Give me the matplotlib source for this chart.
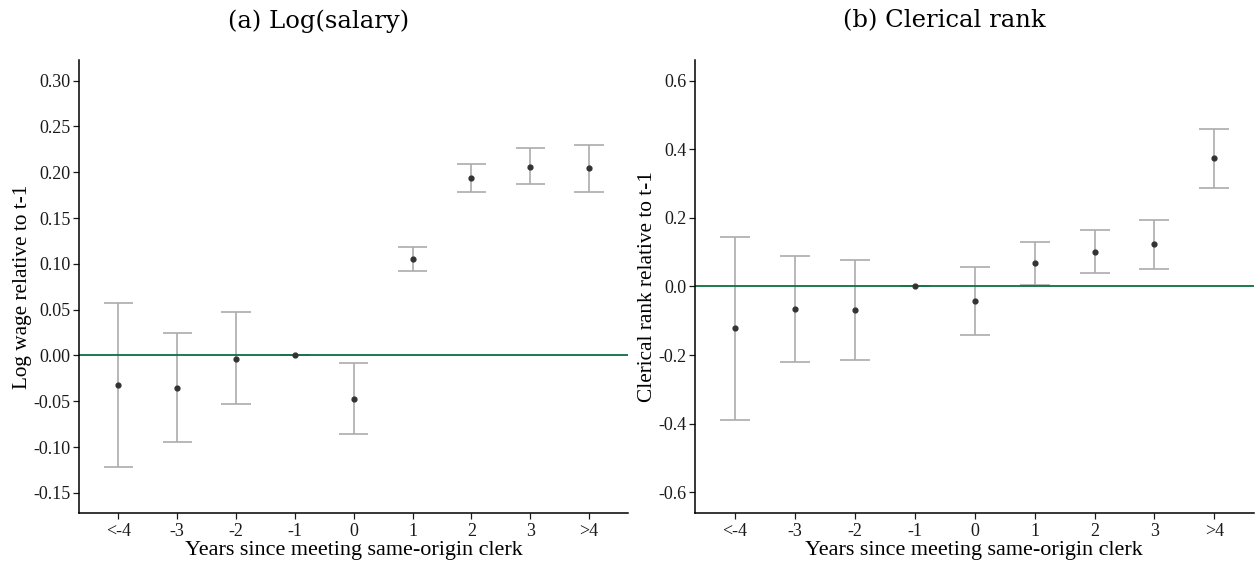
import numpy as np
import matplotlib
matplotlib.use("Agg")
import matplotlib.pyplot as plt
from matplotlib.ticker import FormatStrFormatter

plt.rcParams['font.family'] = ['Liberation Serif', 'DejaVu Serif']
plt.rcParams['axes.unicode_minus'] = False

# event-time categories
periods = ["<-4", "-3", "-2", "-1", "0", "1", "2", "3", ">4"]

# (a) log salary: estimate, lower CI, upper CI
wage_est = [-0.032, -0.035, -0.0035, 0.0, -0.048, 0.105, 0.194, 0.206, 0.205]
wage_lo = [-0.122, -0.095, -0.0535, 0.0, -0.086, 0.092, 0.178, 0.187, 0.179]
wage_hi = [0.0575, 0.025, 0.047, 0.0, -0.008, 0.118, 0.209, 0.226, 0.230]

# (b) clerical rank
rank_est = [-0.122, -0.066, -0.068, 0.0, -0.041, 0.068, 0.101, 0.123, 0.373]
rank_lo = [-0.390, -0.221, -0.215, 0.0, -0.141, 0.004, 0.038, 0.052, 0.287]
rank_hi = [0.145, 0.088, 0.077, 0.0, 0.057, 0.131, 0.164, 0.194, 0.458]

fig = plt.figure(figsize=(12.55, 5.78), dpi=100)
ax1 = fig.add_axes([0.0629, 0.1125, 0.4375, 0.7837])
ax2 = fig.add_axes([0.5535, 0.1125, 0.4457, 0.7837])

def draw(ax, est, lo, hi, ylim, yticks, fmt, ylabel):
    x = np.arange(1, len(periods) + 1)
    ax.vlines(x, lo, hi, color="#ababab", lw=1.2, zorder=2)
    ax.hlines(lo, x - 0.25, x + 0.25, color="#ababab", lw=1.2, zorder=2)
    ax.hlines(hi, x - 0.25, x + 0.25, color="#ababab", lw=1.2, zorder=2)
    ax.axhline(0, color="#0c7040", lw=1.3, zorder=2.5)
    ax.scatter(x, est, s=12, color="#333333", zorder=3)
    ax.set_xlim(0.33, 9.66)
    ax.set_ylim(*ylim)
    ax.set_xticks(x)
    ax.set_xticklabels(periods)
    ax.set_yticks(yticks)
    ax.yaxis.set_major_formatter(FormatStrFormatter(fmt))
    for s in ["top", "right"]:
        ax.spines[s].set_visible(False)
    for s in ["left", "bottom"]:
        ax.spines[s].set_linewidth(1.1)
        ax.spines[s].set_color("black")
    ax.tick_params(axis="both", direction="out", length=4, width=0.9,
                   labelsize=13, colors="#1a1a1a", pad=2)
    ax.tick_params(axis="x", pad=3)
    ax.set_xlabel("Years since meeting same-origin clerk", fontsize=15.9, labelpad=1)
    ax.set_ylabel(ylabel, fontsize=15.3, labelpad=1)

draw(ax1, wage_est, wage_lo, wage_hi, (-0.172, 0.3226),
     np.arange(-0.15, 0.31, 0.05), "%.2f", "Log wage relative to t-1")
draw(ax2, rank_est, rank_lo, rank_hi, (-0.66, 0.66),
     np.arange(-0.6, 0.61, 0.2), "%.1f", "Clerical rank relative to t-1")

# panel captions, centred over each whole sub-figure
fig.text(319 / 1255, 1 - 21 / 578, "(a) Log(salary)", ha="center", va="center",
         fontsize=17.5, family="DejaVu Serif")
fig.text(944 / 1255, 1 - 21 / 578, "(b) Clerical rank", ha="center", va="center",
         fontsize=17.5, family="DejaVu Serif")

fig.savefig("out.png", dpi=100, facecolor="white")
